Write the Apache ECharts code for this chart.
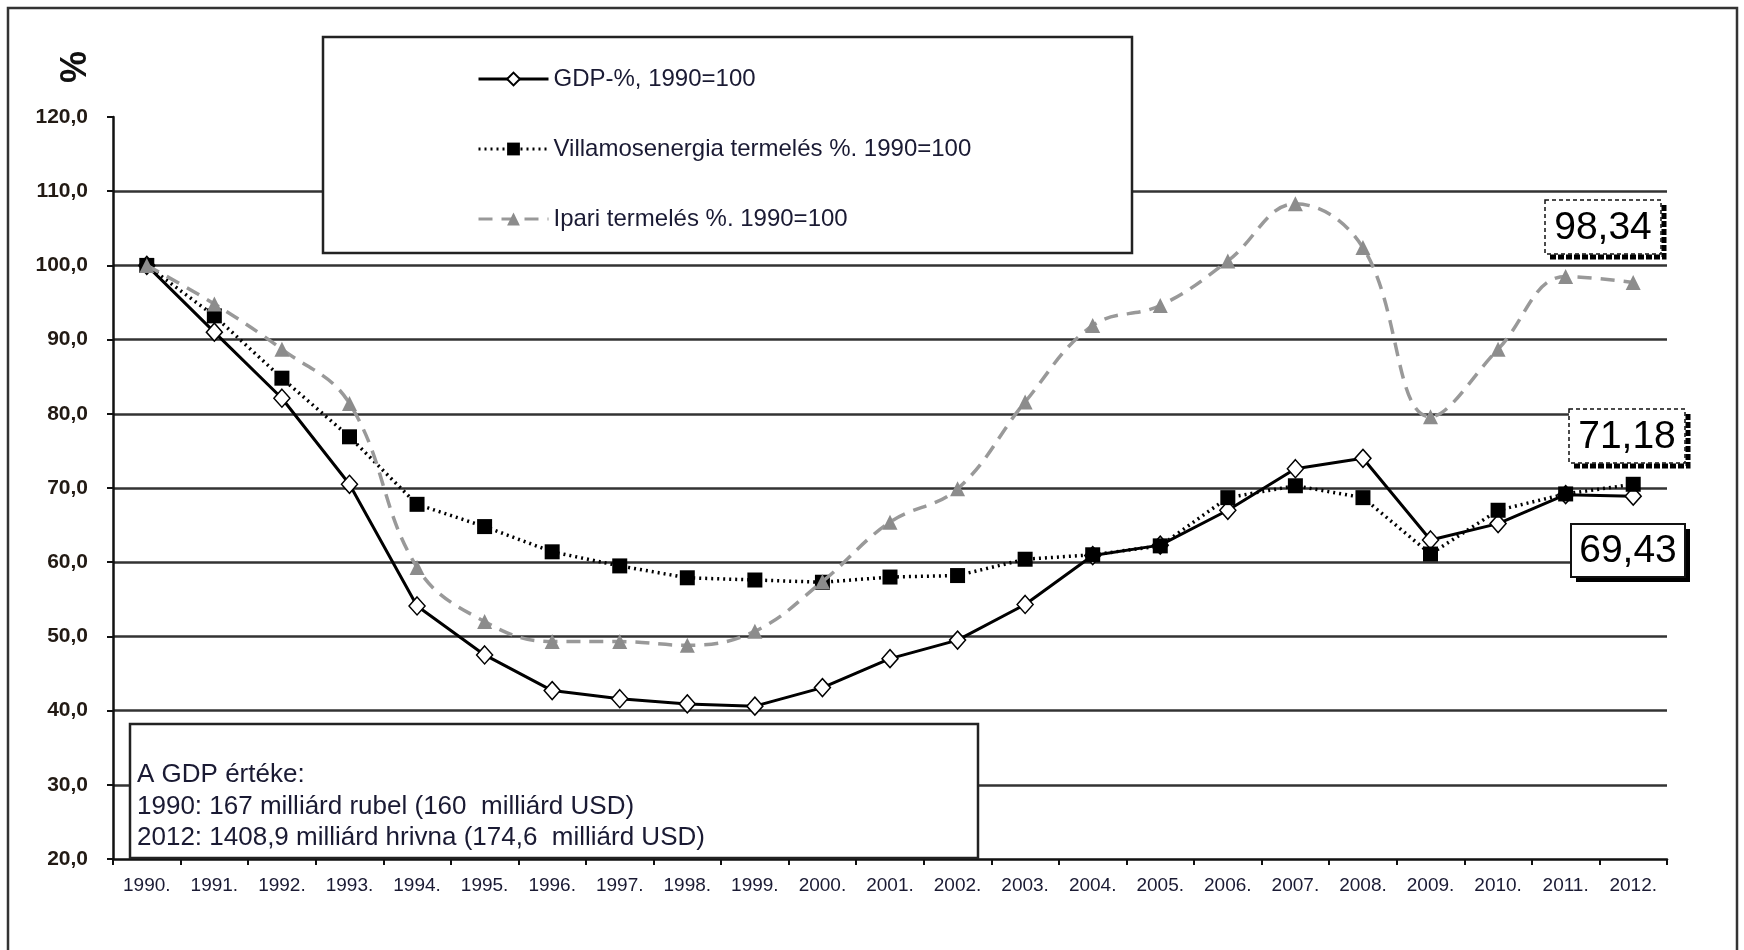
<!DOCTYPE html>
<html>
<head>
<meta charset="utf-8">
<script src="https://cdn.jsdelivr.net/npm/echarts@6/dist/echarts.min.js"></script>
<style>html,body{margin:0;padding:0;background:#fff}#c{width:1744px;height:950px}</style>
</head>
<body>
<div id="c"></div>
<script>
var years = ['1990.','1991.','1992.','1993.','1994.','1995.','1996.','1997.','1998.','1999.','2000.','2001.','2002.','2003.','2004.','2005.','2006.','2007.','2008.','2009.','2010.','2011.','2012.'];
var gdp = [100, 91.0, 82.1, 70.5, 54.1, 47.5, 42.7, 41.6, 40.9, 40.6, 43.1, 47.0, 49.5, 54.3, 60.9, 62.3, 67.0, 72.6, 74.0, 63.0, 65.2, 69.1, 68.9];
var villamos = [100, 93.2, 84.8, 76.9, 67.8, 64.8, 61.4, 59.5, 57.9, 57.6, 57.3, 58.0, 58.2, 60.4, 61.0, 62.2, 68.7, 70.3, 68.7, 61.1, 67.0, 69.2, 70.5];
var ipari = [100, 94.8, 88.7, 81.4, 59.3, 52.0, 49.3, 49.3, 48.8, 50.7, 57.4, 65.4, 69.9, 81.6, 91.9, 94.6, 100.6, 108.3, 102.4, 79.6, 88.7, 98.5, 97.7];
var seriesNames = ['GDP-%, 1990=100', 'Villamosenergia termelés %. 1990=100', 'Ipari termelés %. 1990=100'];
var endLabels = ['98,34', '71,18', '69,43'];
var noteLines = ['A GDP értéke:', '1990: 167 milliárd rubel (160  milliárd USD)', '2012: 1408,9 milliárd hrivna (174,6  milliárd USD)'];
var yUnit = '%';

var FONT = "'Liberation Sans', Arial, sans-serif";
var TXT = '#1a1a33';

var chart = echarts.init(document.getElementById('c'), null, {renderer: 'canvas'});

function valueBox(x, y, w, h, text, dashed) {
  var children = [];
  if (dashed) {
    children.push({type: 'polyline', shape: {points: [[x + w + 3, y + 5], [x + w + 3, y + h + 3], [x + 5, y + h + 3]]},
      style: {stroke: '#000', lineWidth: 5, lineDash: [6, 2], fill: null}, z: 10});
  } else {
    children.push({type: 'rect', shape: {x: x + 5, y: y + 5, width: w, height: h}, style: {fill: '#000'}, z: 10});
  }
  children.push({type: 'rect', shape: {x: x, y: y, width: w, height: h},
    style: {fill: '#fff', stroke: '#111', lineWidth: dashed ? 1.5 : 2, lineDash: dashed ? [4, 3] : null}, z: 11});
  children.push({type: 'text', x: x + w / 2, y: y + h / 2 + 1, z: 12,
    style: {text: text, font: '39px ' + FONT, fill: '#000', align: 'center', verticalAlign: 'middle'}});
  return children;
}

var graphics = [
  {type: 'rect', shape: {x: 8, y: 8, width: 1729, height: 960}, style: {fill: null, stroke: '#333', lineWidth: 2.5}, z: 1},
  {type: 'rect', shape: {x: 323, y: 37, width: 809, height: 216}, style: {fill: '#fff', stroke: '#222', lineWidth: 2.5}, z: 10},
  {type: 'rect', shape: {x: 130, y: 724, width: 848, height: 134}, style: {fill: '#fff', stroke: '#222', lineWidth: 2.5}, z: 10},
  {type: 'text', x: 76, y: 67, rotation: Math.PI / 2, z: 10,
    style: {text: yUnit, font: 'bold 36px ' + FONT, fill: '#111', align: 'center', verticalAlign: 'middle'}}
];
noteLines.forEach(function (t, i) {
  graphics.push({type: 'text', x: 137, y: 775 + i * 31.5, z: 11,
    style: {text: t, font: '26px ' + FONT, fill: TXT, align: 'left', verticalAlign: 'middle'}});
});
graphics = graphics.concat(valueBox(1545, 200, 116, 54, endLabels[0], true));
graphics = graphics.concat(valueBox(1569, 409, 116, 54, endLabels[1], true));
graphics = graphics.concat(valueBox(1571, 524, 114, 53, endLabels[2], false));

var option = {
  backgroundColor: '#fff',
  animation: false,
  grid: {left: 113, right: 77, top: 117, bottom: 91, containLabel: false},
  legend: {
    orient: 'vertical', left: 472, top: 62, z: 20,
    itemWidth: 70, itemHeight: 16, itemGap: 46,
    selectedMode: false,
    lineStyle: {width: 3},
    textStyle: {fontSize: 24, fontFamily: FONT, color: TXT, padding: [0, 0, 0, 0]},
    data: seriesNames
  },
  xAxis: {
    type: 'category', data: years, boundaryGap: true,
    axisLine: {lineStyle: {color: '#111', width: 2.5}},
    axisTick: {show: true, inside: false, length: 6, interval: 0, lineStyle: {color: '#111', width: 2}},
    axisLabel: {interval: 0, margin: 17, fontSize: 19, fontFamily: FONT, color: TXT},
    splitLine: {show: false}
  },
  yAxis: {
    type: 'value', min: 20, max: 120, interval: 10,
    axisLine: {show: true, lineStyle: {color: '#111', width: 2.5}},
    axisTick: {show: true, inside: false, length: 6, lineStyle: {color: '#111', width: 2}},
    axisLabel: {margin: 25, fontSize: 21, fontWeight: 'bold', fontFamily: FONT, color: '#221a14',
      formatter: function (v) { return v.toFixed(1).replace('.', ','); }},
    splitLine: {show: true, showMinLine: false, showMaxLine: false, lineStyle: {color: '#333', width: 2.5}}
  },
  series: [
    {name: seriesNames[0], type: 'line', data: gdp, smooth: false, z: 3,
      symbol: 'diamond', symbolSize: [16, 18],
      lineStyle: {color: '#000', width: 3, type: 'solid'},
      itemStyle: {color: '#fff', borderColor: '#000', borderWidth: 1.5}},
    {name: seriesNames[1], type: 'line', data: villamos, smooth: false, z: 4,
      symbol: 'rect', symbolSize: 15,
      lineStyle: {color: '#000', width: 3.5, type: [2, 4]},
      itemStyle: {color: '#000', borderColor: '#000', borderWidth: 0}},
    {name: seriesNames[2], type: 'line', data: ipari, smooth: 0.4, z: 5,
      symbol: 'triangle', symbolSize: 15,
      lineStyle: {color: '#999', width: 3.5, type: [14, 9]},
      itemStyle: {color: '#8c8c8c', borderColor: '#8c8c8c', borderWidth: 0}}
  ],
  graphic: graphics
};
chart.setOption(option);
</script>
</body>
</html>
